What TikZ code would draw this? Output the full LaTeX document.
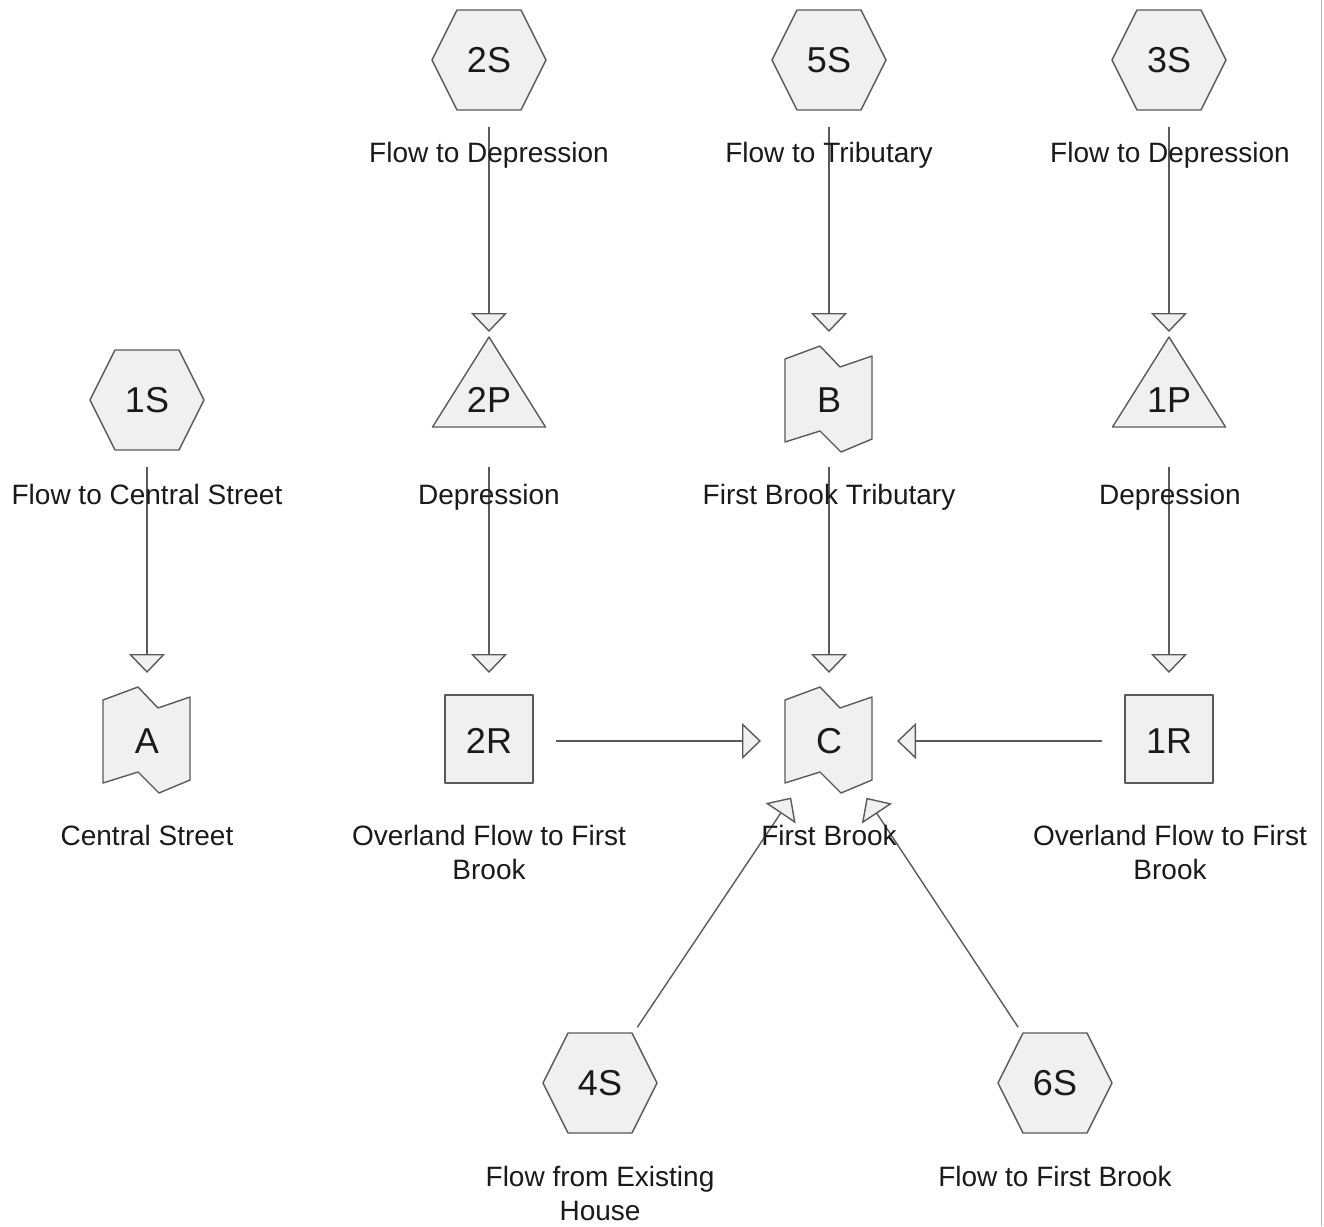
\documentclass[tikz,border=0pt]{standalone}
\usepackage{fontspec}
\setmainfont{Liberation Sans}
\usetikzlibrary{arrows.meta}
\definecolor{shfill}{HTML}{F0F0F0}
\definecolor{shdraw}{HTML}{5A5A5A}
\definecolor{txt}{HTML}{1A1A1A}
\newcommand\hexnode[3]{%
  \draw[shp, shift={#2}] (-57,0)--(-32,-50)--(32,-50)--(57,0)--(32,50)--(-32,50)--cycle;
  \node[idtext] (#1) at #2 {#3};}
\newcommand\trinode[3]{%
  \draw[shp, shift={#2}] (0,-63)--(56.5,27)--(-56.5,27)--cycle;
  \node[idtext] (#1) at #2 {#3};}
\newcommand\sqnode[3]{%
  \draw[shp, shift={#2}] (-44,-46) rectangle (44,42);
  \node[idtext] (#1) at #2 {#3};}
\newcommand\reachnode[3]{%
  \draw[shp, shift={#2}] (-44,-41)--(-9,-54)--(11,-33)--(43,-44)--(43,39)--(12,52)--(-9,31)--(-44,42)--cycle;
  \node[idtext] (#1) at #2 {#3};}
\begin{document}
\begin{tikzpicture}[x=1pt,y=-1pt,
  idtext/.style={font=\fontsize{36}{40}\selectfont, text=txt, inner sep=0pt},
  captext/.style={font=\fontsize{28}{34}\selectfont, text=txt, inner sep=0pt, anchor=north, align=center},
  shp/.style={draw=shdraw, fill=shfill, line width=1.4pt, line join=round},
  flow/.style={draw=shdraw, line width=1.4pt, shorten <=67pt, shorten >=68pt,
    -{Triangle[length=19pt, width=36pt, fill=shfill]}},
]
\useasboundingbox (0,0) rectangle (1324,1226);
\fill[white] (0,0) rectangle (1324,1226);
\draw[gray!60, line width=1.5pt] (1321.5,0) -- (1321.5,1226);

% row 1
\hexnode{2S}{(489,60)}{2S}
\hexnode{5S}{(829,60)}{5S}
\hexnode{3S}{(1169,60)}{3S}
% row 2
\hexnode{1S}{(147,400)}{1S}
\trinode{2P}{(489,400)}{2P}
\reachnode{B}{(829,400)}{B}
\trinode{1P}{(1169,400)}{1P}
% row 3
\reachnode{A}{(147,741)}{A}
\sqnode{2R}{(489,741)}{2R}
\reachnode{C}{(829,741)}{C}
\sqnode{1R}{(1169,741)}{1R}
% row 4
\hexnode{4S}{(600,1083)}{4S}
\hexnode{6S}{(1055,1083)}{6S}

% connectors
\draw[flow] (2S.center) -- (2P.center);
\draw[flow] (5S.center) -- (B.center);
\draw[flow] (3S.center) -- (1P.center);
\draw[flow] (1S.center) -- (A.center);
\draw[flow] (2P.center) -- (2R.center);
\draw[flow] (B.center) -- (C.center);
\draw[flow] (1P.center) -- (1R.center);
\draw[flow] (2R.center) -- (C.center);
\draw[flow] (1R.center) -- (C.center);
\draw[flow] (4S.center) -- (C.center);
\draw[flow] (6S.center) -- (C.center);

% captions
\node[captext] (l2S) at (489,142) {Flow to Depression};
\node[captext] (l5S) at (829,142) {Flow to Tributary};
\node[captext] (l3S) at (1170,142) {Flow to Depression};
\node[captext] (l1S) at (147,484) {Flow to Central Street};
\node[captext] (l2P) at (489,484) {Depression};
\node[captext] (lB) at (829,484) {First Brook Tributary};
\node[captext] (l1P) at (1170,484) {Depression};
\node[captext] (lA) at (147,825) {Central Street};
\node[captext] (l2R) at (489,825) {Overland Flow to First\\Brook};
\node[captext] (lC) at (829,825) {First Brook};
\node[captext] (l1R) at (1170,825) {Overland Flow to First\\Brook};
\node[captext] (l4S) at (600,1166) {Flow from Existing\\House};
\node[captext] (l6S) at (1055,1166) {Flow to First Brook};
\end{tikzpicture}
\end{document}
